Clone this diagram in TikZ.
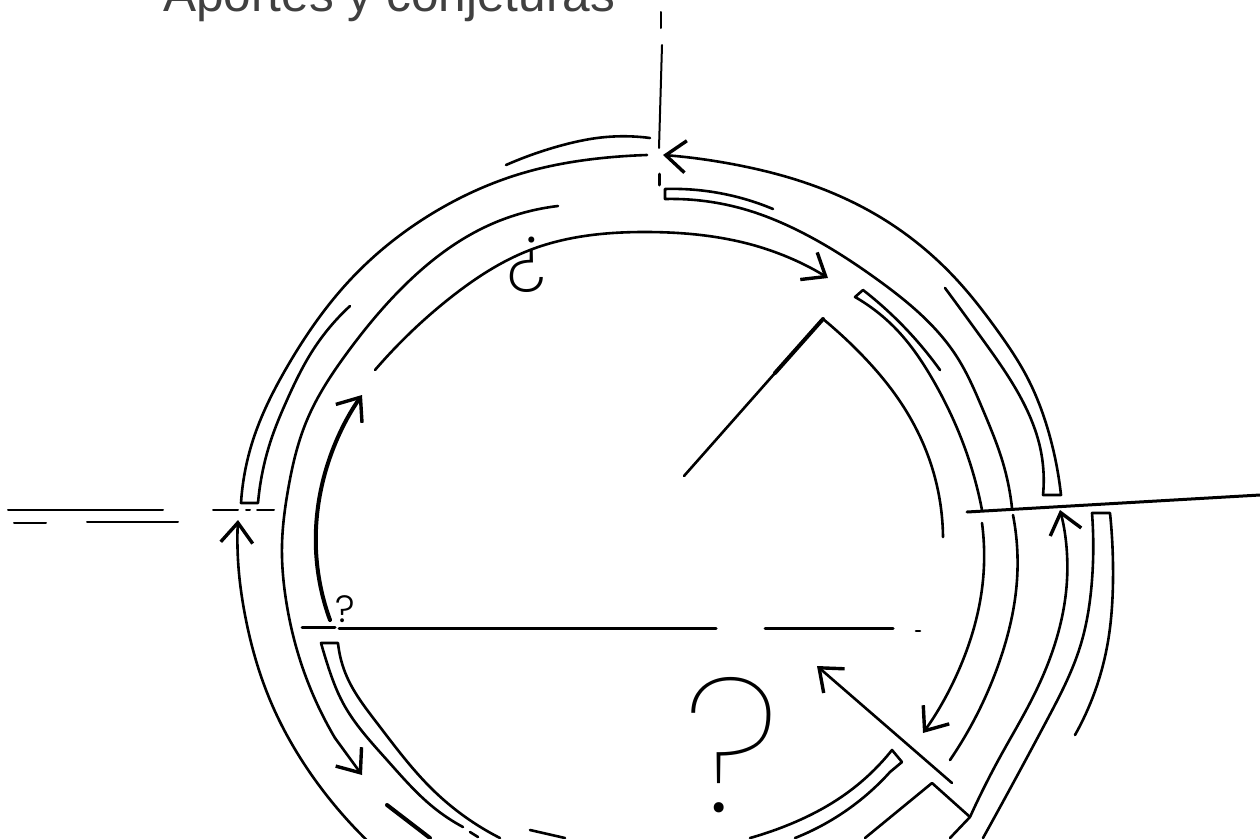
\documentclass[tikz,border=0pt]{standalone}
\usepackage{fontspec}
\setmainfont{Liberation Sans}
\newfontfamily\bigmarkfont{Poppins Thin}
\newfontfamily\openmarkfont{Poppins ExtraLight}
\newfontfamily\smallmarkfont{Poppins Light}
\usetikzlibrary{arrows.meta,hobby}

\begin{document}
\begin{tikzpicture}[
            x=1pt, y=-1pt,
            ring/.style={draw, line width=2.6pt, line join=round, line cap=round},
            thick ring/.style={ring, line width=4pt},
            tick/.style={draw, line width=2pt, line cap=round},
            mark text/.style={inner sep=0pt},
            >={Straight Barb[length=20pt, width=32pt, line width=3.4pt]}
        ]
        \clip (0,0) rectangle (1260,838);
        \fill[white] (0,0) rectangle (1260,838);

        \node[anchor=base west, inner sep=0pt, text=black!75, font=\fontsize{49.6pt}{50pt}\selectfont] (title) at (163,11) {Aportes y conjeturas};

        \draw[tick] (661,12) -- (661,28);
        \draw[tick] (662,45) -- (659,148);
        \draw[tick, line width=3pt] (659,174) -- (659,185);
        \draw[tick] (8,510) -- (163,510);
        \draw[tick] (14,523) -- (46,523);
        \draw[tick] (87,522) -- (178,522);
        \draw[tick] (213,510) -- (238,510);
        \draw[tick] (246,510) -- (250,510);
        \draw[tick] (257,510) -- (274,510);

        \draw[ring] plot[hobby] coordinates {(350,306) (313,350) (287,400) (272,437) (258,503)}
            -- (241,503) -- plot[hobby] coordinates {(241,503) (253,440) (287,367) (350,280) (433,213) (523,173) (613,157) (647,155)};
        \draw[ring] plot[hobby] coordinates {(506,165) (563,145) (597,138) (650,138)};
        \draw[ring] plot[hobby] coordinates {(558,206) (483,228) (407,283) (347,353) (307,420) (288,490) (282,545) (286,600) (297,650) (335,738)};
        \draw[ring, ->] (335,738) -- (362,775);
        \draw[ring, ->] plot[hobby] coordinates {(375,848) (313,777) (270,700) (245,615) (238,560) (238,520)};
        \draw[thick ring, ->] plot[hobby] coordinates {(330,620) (316,550) (325,473) (362,395)};
        \draw[ring, ->] plot[hobby] coordinates {(375,370) (450,298) (530,250) (647,232) (763,248) (828,278)};

        \draw[ring, ->] plot[hobby] coordinates {(945,288) (983,340) (1022,400) (1040,447) (1043,495)}
            -- (1061,495) -- plot[hobby] coordinates {(1061,495) (1050,437) (1027,377) (997,330) (957,280) (880,217) (797,180) (747,167) (663,155)};
        \draw[ring] plot[hobby] coordinates {(773,209) (713,192) (665,189)}
            -- (665,199) -- plot[hobby] coordinates {(665,199) (747,210) (797,230) (878,280) (957,357) (983,410) (1003,463) (1012,508)};
        \draw[ring] plot[hobby] coordinates {(940,370) (907,330) (863,290)}
            -- (855,297) -- plot[hobby] coordinates {(855,297) (897,330) (933,380) (963,443) (982,510)};
        \draw[ring] (684,476) -- (775,373);
        \draw[thick ring] (775,373) -- (823,319);
        \draw[ring] plot[hobby] coordinates {(823,319) (860,353) (897,397) (927,453) (943,537)};

        \draw[ring, line width=3pt] (967,512) -- (1260,495);
        \draw[ring, ->] plot[hobby] coordinates {(982,523) (983,580) (963,660) (923,733)};
        \draw[ring] plot[hobby] coordinates {(1013,515) (1017,580) (1000,660) (950,760)};
        \draw[ring] (950,838) -- (970,817);
        \draw[ring, ->] plot[hobby] coordinates {(970,817) (1000,757) (1033,697) (1057,637) (1067,580) (1060,510)};
        \draw[ring] plot[hobby] coordinates {(983,838) (1047,720) (1080,647) (1092,580) (1092,513)}
            -- (1110,513) -- plot[hobby] coordinates {(1110,513) (1113,580) (1107,647) (1075,735)};
        \draw[ring] (865,838) -- (932,783) -- (970,817);
        \draw[ring, ->] (952,783) -- (817,666);

        \draw[ring, line width=3pt] (302,627) -- (335,627);
        \draw[ring, line width=3pt] (339,628) -- (716,628);
        \draw[ring, line width=3pt] (765,628) -- (893,628);
        \draw[ring] (916,631) -- (920,631);
        \draw[ring] plot[hobby] coordinates {(500,838) (433,790) (377,723) (347,677) (338,643)}
            -- (321,643) -- plot[hobby] coordinates {(321,643) (327,663) (343,703) (387,760) (433,807) (463,827)};
        \draw[ring] (470,832) -- (478,837);
        \draw[thick ring] (387,805) -- (430,838);
        \draw[ring] (530,830) -- (565,838);
        \draw[ring] plot[hobby] coordinates {(750,838) (783,827) (847,793) (892,750)}
            -- (902,762) -- (890,772) -- plot[hobby] coordinates {(890,772) (847,810) (795,838)};

        \node[mark text, font=\bigmarkfont\fontsize{190pt}{190pt}\selectfont] (bigmark) at (732,745) {?};
        \node[mark text, font=\smallmarkfont\fontsize{38pt}{38pt}\selectfont] (smallmark) at (345,609) {?};
        \node[mark text, font=\openmarkfont\fontsize{78pt}{78pt}\selectfont] (openmark) at (526,265) {¿};
    \end{tikzpicture}
\end{document}
